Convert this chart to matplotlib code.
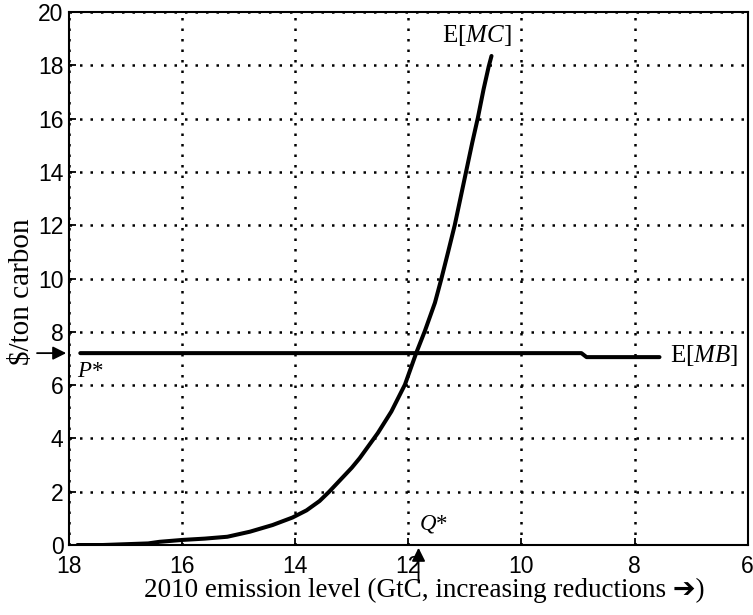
import matplotlib
matplotlib.use('Agg')
import matplotlib.pyplot as plt
import numpy as np

plt.rcParams['font.family'] = 'Liberation Sans'
plt.rcParams['mathtext.fontset'] = 'custom'
plt.rcParams['mathtext.rm'] = 'Liberation Serif'
plt.rcParams['mathtext.it'] = 'Liberation Serif:italic'

# expected marginal cost curve
mc_x = [17.85, 17.4, 17.0, 16.6, 16.4, 16.0, 15.6, 15.2, 14.8, 14.4, 14.05, 13.8,
        13.57, 13.4, 13.2, 13.0, 12.86, 12.54, 12.30, 12.06, 11.86, 11.71, 11.53, 11.42,
        11.30, 11.18, 11.08, 10.97, 10.87, 10.77, 10.67, 10.58, 10.53]
mc_y = [0.0, 0.0, 0.03, 0.06, 0.12, 0.19, 0.24, 0.31, 0.5, 0.75, 1.03, 1.3,
        1.65, 2.0, 2.45, 2.9, 3.26, 4.2, 5.01, 6.02, 7.21, 8.02, 9.09, 9.96,
        10.97, 12.0, 13.0, 14.1, 15.1, 16.04, 17.1, 17.95, 18.35]

# expected marginal benefit
mb_x = [17.8, 8.94, 8.85, 7.56]
mb_y = [7.2, 7.2, 7.05, 7.05]

p_star = 7.2
q_star = 11.82

xticks = [18, 16, 14, 12, 10, 8, 6]
yticks = list(range(0, 21, 2))

fig = plt.figure(figsize=(7.53, 6.15), dpi=100)
ax = fig.add_axes([0.0916, 0.1138, 0.9014, 0.8667])

ax.plot(mc_x, mc_y, color='k', linewidth=2.9, solid_capstyle='round',
        solid_joinstyle='round')
ax.plot(mb_x, mb_y, color='k', linewidth=2.9, solid_capstyle='round')

ax.set_xlim(18, 6)
ax.set_ylim(0, 20)
ax.set_xticks(xticks)
ax.set_yticks(yticks)
ax.tick_params(direction='in', labelsize=16.5, width=1.3, length=5)
ax.tick_params(axis='x', pad=7)
ax.tick_params(axis='y', pad=4)
ax.grid(True, color='k', linestyle=(0, (1, 3.2)), linewidth=1.8)
for s in ax.spines.values():
    s.set_linewidth(1.5)

serif = ['Liberation Serif', 'DejaVu Sans']
ax.set_xlabel('2010 emission level (GtC, increasing reductions \u2794)',
              fontsize=19.5, fontfamily=serif)
ax.xaxis.set_label_coords(0.523, -0.062)
ax.set_ylabel(r'\$/ton carbon', fontsize=21, fontfamily=serif)
ax.yaxis.set_label_coords(-0.050, 0.475)

ax.text(10.79, 19.1, r'E[$\mathit{MC}$]', fontsize=18, fontfamily=serif,
        ha='center', va='center')
ax.text(7.38, 7.1, r'E[$\mathit{MB}$]', fontsize=18, fontfamily=serif,
        ha='left', va='center')
ax.text(17.85, 6.5, r'$\mathit{P}$*', fontsize=16.5, fontfamily=serif,
        ha='left', va='center')
ax.text(11.82, 0.8, r'$\mathit{Q}$*', fontsize=16.5, fontfamily=serif,
        ha='left', va='center')

ax.annotate('', xy=(18, p_star), xytext=(-25, 0), textcoords='offset points',
            arrowprops=dict(arrowstyle='-|>', color='k', lw=1.3, mutation_scale=20),
            annotation_clip=False)
ax.annotate('', xy=(q_star, 0), xytext=(0, -29), textcoords='offset points',
            arrowprops=dict(arrowstyle='-|>', color='k', lw=1.3, mutation_scale=20),
            annotation_clip=False)

fig.savefig('out.png', dpi=100)
